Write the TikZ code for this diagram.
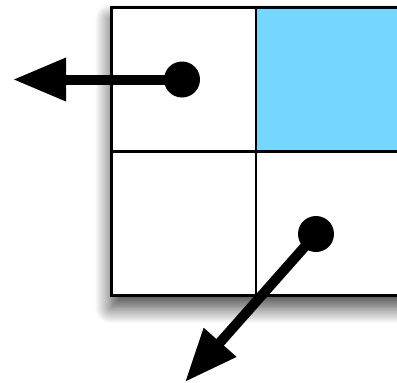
\documentclass[tikz,border=0pt]{standalone}
\usepackage{tikz}
\usetikzlibrary{arrows.meta}
\usetikzlibrary{shadows.blur}

\definecolor{cellblue}{RGB}{117,214,255}

\tikzset{
  cell/.style={draw, line width=2.5pt, color=black, inner sep=0pt,
               minimum width=145pt, minimum height=144pt},
  dot/.style={circle, fill=black, inner sep=0pt, minimum size=36pt},
  pointer/.style={line width=10pt, black, -{Triangle[length=53pt,width=41pt]}}
}

\begin{document}
\begin{tikzpicture}[x=1pt, y=-1pt]
\useasboundingbox (0,0) rectangle (397,383);

% frame with its shadow
\draw[line width=3pt, black, fill=white,
      blur shadow={shadow xshift=0pt, shadow yshift=-12pt,
                   shadow blur radius=16pt, shadow blur steps=20,
                   shadow opacity=75}]
  (111,7.5) rectangle (440,295.5);

% the cells
\node[cell] (c11) at (183.5,79.5) {};
\node[cell, fill=cellblue] (c12) at (328.5,79.5) {};
\node[cell] (c21) at (183.5,223.5) {};
\node[cell] (c22) at (328.5,223.5) {};
\draw[line width=3pt, black] (111,7.5) -- (440,7.5);
\draw[line width=3pt, black] (111,7.5) -- (111,295.5) -- (440,295.5);

% the pointers
\node[dot] (dotA) at (182,79.5) {};
\node[dot] (dotB) at (316,234) {};
\coordinate (tipA) at (13,79.5);
\coordinate (tipB) at (185,382);
\draw[pointer] (dotA.center) -- (tipA);
\draw[pointer] (dotB.center) -- (tipB);
\end{tikzpicture}
\end{document}
